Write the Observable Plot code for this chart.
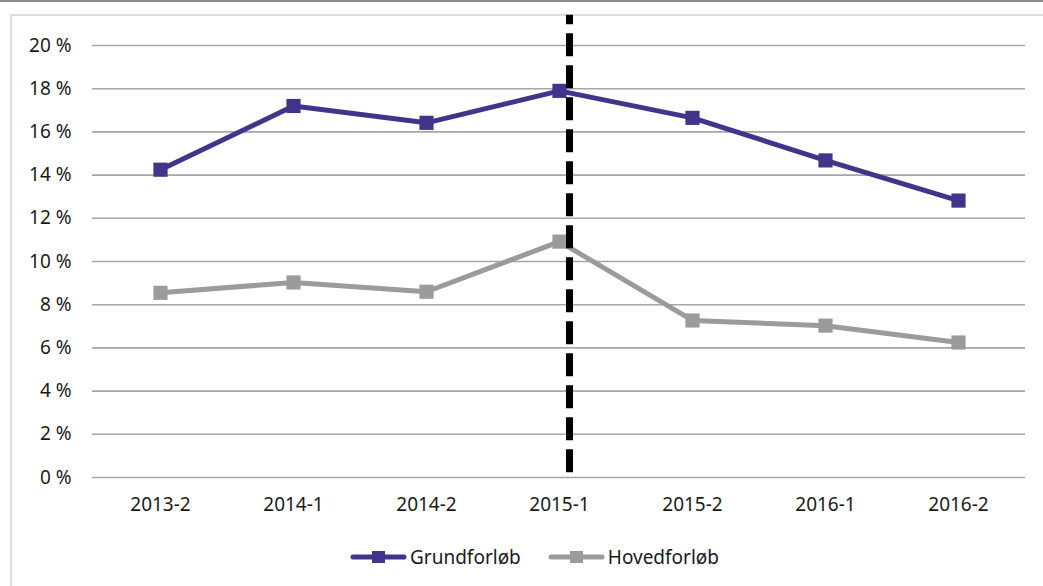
<!DOCTYPE html>
<html>
<head>
<meta charset="utf-8">
<script src="https://cdn.jsdelivr.net/npm/d3@7"></script>
<script src="https://cdn.jsdelivr.net/npm/@observablehq/plot@0.6"></script>
<style>
  html, body { margin: 0; padding: 0; background: #fff; }
  body { width: 1043px; height: 586px; position: relative; overflow: hidden; font-family: "Noto Sans", sans-serif; }
  #topline { position: absolute; left: 0; top: 0; width: 1043px; height: 2px; background: #8c8c8c; }
  #frame { position: absolute; left: 10px; top: 14px; width: 1200px; height: 800px; border: 2px solid #dcdcdc; box-sizing: border-box; }
  #chart { position: absolute; left: 0; top: 0; }
  #legend { position: absolute; top: 544px; left: 350px; display: flex; align-items: center; font-size: 19px; color: #1a1a1a; }
  .item { display: flex; align-items: center; margin-right: 27px; }
  .item svg { margin-right: 3px; }
</style>
</head>
<body>
<div id="topline"></div>
<div id="frame"></div>
<div id="chart"></div>
<div id="legend"></div>
<script>
const categories = ["2013-2", "2014-1", "2014-2", "2015-1", "2015-2", "2016-1", "2016-2"];
const grundforlob = [14.25, 17.2, 16.42, 17.9, 16.65, 14.68, 12.82];
const hovedforlob = [8.55, 9.03, 8.6, 10.92, 7.27, 7.03, 6.25];
const seriesNames = ["Grundforløb", "Hovedforløb"];
const seriesColors = ["#41358b", "#9b9b9b"];
const yTicks = [0, 2, 4, 6, 8, 10, 12, 14, 16, 18, 20];
const markerCategory = "2015-1";
const markerSpan = [0.22, 21.4];

const rows = [];
categories.forEach((c, i) => {
  rows.push({cat: c, value: grundforlob[i], series: seriesNames[0]});
  rows.push({cat: c, value: hovedforlob[i], series: seriesNames[1]});
});

const chart = Plot.plot({
  width: 1043,
  height: 530,
  marginLeft: 92,
  marginRight: 18,
  marginTop: 45,
  marginBottom: 53,
  style: {fontFamily: "'Noto Sans', sans-serif", fontSize: "19px", color: "#1a1a1a", background: "transparent", overflow: "visible"},
  x: {type: "point", domain: categories, padding: 0.5, label: null},
  y: {domain: [0, 20], label: null},
  color: {domain: seriesNames, range: seriesColors},
  marks: [
    Plot.ruleY(yTicks, {stroke: "#a6a6a6", strokeWidth: 1.6}),
    Plot.axisY({ticks: yTicks, tickFormat: d => d + " %", tickSize: 0, tickPadding: 21, label: null, fill: "#1a1a1a"}),
    Plot.axisX({tickSize: 0, tickPadding: 20, label: null, fill: "#1a1a1a"}),
    Plot.line(rows, {x: "cat", y: "value", z: "series", stroke: "series", strokeWidth: 5, strokeLinejoin: "miter"}),
    Plot.dot(rows, {x: "cat", y: "value", fill: "series", symbol: "square", r: 8}),
    Plot.ruleX([markerCategory], {y1: markerSpan[0], y2: markerSpan[1], dx: 10, stroke: "#000", strokeWidth: 7, strokeDasharray: "23,9", clip: false})
  ]
});
document.getElementById("chart").appendChild(chart);

const legend = document.getElementById("legend");
seriesNames.forEach((name, i) => {
  const item = document.createElement("div");
  item.className = "item";
  item.innerHTML = `<svg width="57" height="16"><line x1="3" y1="8" x2="54" y2="8" stroke="${seriesColors[i]}" stroke-width="5" stroke-linecap="round"/><rect x="22" y="2" width="13" height="12" fill="${seriesColors[i]}"/></svg><span>${name}</span>`;
  legend.appendChild(item);
});
</script>
</body>
</html>
